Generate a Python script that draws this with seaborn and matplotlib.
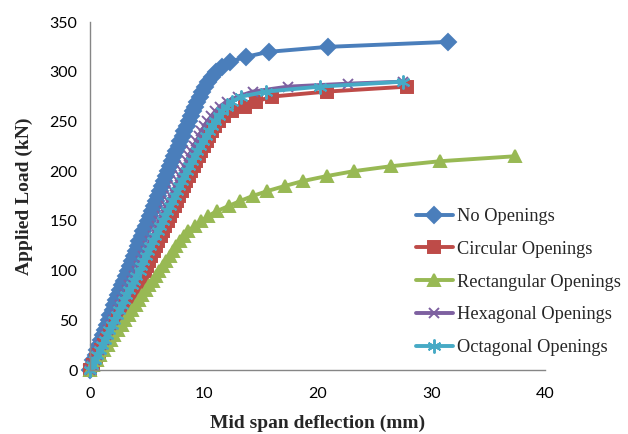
import matplotlib
matplotlib.use("Agg")
import matplotlib.pyplot as plt
import seaborn as sns
import pandas as pd

# ---- data (load in kN, deflection in mm) ----
load_no = [0, 5, 10, 15, 20, 25, 30, 35, 40, 45, 50, 55, 60, 65, 70, 75, 80, 85, 90, 95,
           100, 105, 110, 115, 120, 125, 130, 135, 140, 145, 150, 155, 160, 165, 170, 175,
           180, 185, 190, 195, 200, 205, 210, 215, 220, 225, 230, 235, 240, 245, 250, 255,
           260, 265, 270, 275, 280, 285, 290, 295, 300, 305, 310, 315, 320, 325, 330]
defl_no = [0.0, 0.15, 0.3, 0.5, 0.65, 0.8, 1.0, 1.15, 1.3, 1.5, 1.65, 1.8, 2.0, 2.15, 2.3, 2.5,
           2.65, 2.8, 3.0, 3.15, 3.3, 3.5, 3.65, 3.85, 4.0, 4.2, 4.35, 4.55, 4.7, 4.9, 5.1, 5.25,
           5.45, 5.6, 5.8, 6.0, 6.15, 6.35, 6.5, 6.7, 6.9, 7.05, 7.25, 7.4, 7.6, 7.8, 7.95, 8.15,
           8.3, 8.5, 8.7, 8.85, 9.05, 9.25, 9.45, 9.65, 9.85, 10.1, 10.4, 10.7, 11.1, 11.6, 12.3,
           13.7, 15.7, 20.9, 31.5]

load_circ = [0, 5, 10, 15, 20, 25, 30, 35, 40, 45, 50, 55, 60, 65, 70, 75, 80, 85, 90, 95,
             100, 105, 110, 115, 120, 125, 130, 135, 140, 145, 150, 155, 160, 165, 170, 175,
             180, 185, 190, 195, 200, 205, 210, 215, 220, 225, 230, 235, 240, 245, 250, 255,
             260, 265, 270, 275, 280, 285]
defl_circ = [0.0, 0.25, 0.5, 0.75, 1.0, 1.25, 1.5, 1.75, 2.0, 2.25, 2.5, 2.7, 2.95, 3.15, 3.4,
             3.6, 3.85, 4.05, 4.3, 4.55, 4.8, 5.0, 5.2, 5.4, 5.6, 5.8, 6.0, 6.2, 6.4, 6.6, 6.85,
             7.05, 7.25, 7.45, 7.65, 7.85, 8.05, 8.25, 8.45, 8.7, 8.9, 9.1, 9.35, 9.55, 9.8, 10.0,
             10.25, 10.45, 10.7, 11.0, 11.3, 11.8, 12.5, 13.6, 14.6, 16.0, 20.8, 27.9]

load_rect = [0, 5, 10, 15, 20, 25, 30, 35, 40, 45, 50, 55, 60, 65, 70, 75, 80, 85, 90, 95,
             100, 105, 110, 115, 120, 125, 130, 135, 140, 145, 150, 155, 160, 165, 170, 175,
             180, 185, 190, 195, 200, 205, 210, 215]
defl_rect = [0.0, 0.3, 0.6, 0.9, 1.2, 1.55, 1.85, 2.15, 2.45, 2.8, 3.1, 3.4, 3.7, 4.0, 4.3,
             4.6, 4.9, 5.2, 5.5, 5.8, 6.1, 6.4, 6.7, 7.0, 7.3, 7.6, 7.9, 8.25, 8.65, 9.2, 9.8,
             10.4, 11.2, 12.2, 13.2, 14.3, 15.6, 17.1, 18.7, 20.8, 23.2, 26.5, 30.8, 37.4]

load_hex = [0, 5, 10, 15, 20, 25, 30, 35, 40, 45, 50, 55, 60, 65, 70, 75, 80, 85, 90, 95,
            100, 105, 110, 115, 120, 125, 130, 135, 140, 145, 150, 155, 160, 165, 170, 175,
            180, 185, 190, 195, 200, 205, 210, 215, 220, 225, 230, 235, 240, 245, 250, 255,
            260, 265, 270, 275, 280, 285, 288, 290]
defl_hex = [0.0, 0.2, 0.4, 0.6, 0.8, 1.0, 1.2, 1.4, 1.6, 1.85, 2.05, 2.25, 2.45, 2.65, 2.85,
            3.05, 3.25, 3.45, 3.7, 3.9, 4.1, 4.3, 4.5, 4.7, 4.9, 5.1, 5.3, 5.5, 5.7, 5.9, 6.1,
            6.3, 6.5, 6.7, 6.9, 7.1, 7.3, 7.5, 7.7, 7.9, 8.1, 8.3, 8.5, 8.7, 8.9, 9.15, 9.35,
            9.6, 9.8, 10.05, 10.3, 10.65, 11.0, 11.4, 12.0, 13.0, 14.3, 17.4, 22.7, 27.5]

load_oct = [0, 5, 10, 15, 20, 25, 30, 35, 40, 45, 50, 55, 60, 65, 70, 75, 80, 85, 90, 95,
            100, 105, 110, 115, 120, 125, 130, 135, 140, 145, 150, 155, 160, 165, 170, 175,
            180, 185, 190, 195, 200, 205, 210, 215, 220, 225, 230, 235, 240, 245, 250, 255,
            260, 265, 270, 275, 280, 285, 290]
defl_oct = [0.0, 0.2, 0.45, 0.65, 0.85, 1.05, 1.3, 1.5, 1.7, 1.95, 2.15, 2.35, 2.55, 2.8, 3.0,
            3.2, 3.4, 3.65, 3.85, 4.05, 4.4, 4.5, 4.7, 4.9, 5.1, 5.3, 5.5, 5.75, 5.95, 6.15, 6.4,
            6.6, 6.8, 7.0, 7.2, 7.45, 7.65, 7.85, 8.05, 8.3, 8.5, 8.7, 8.95, 9.2, 9.45, 9.7,
            9.95, 10.2, 10.45, 10.7, 11.0, 11.3, 11.6, 12.0, 12.5, 13.3, 15.5, 20.2, 27.5]

series_names = ["No Openings", "Circular Openings", "Rectangular Openings",
                "Hexagonal Openings", "Octagonal Openings"]
x_ticks = [0, 10, 20, 30, 40]
y_ticks = [0, 50, 100, 150, 200, 250, 300, 350]

# ---- styling ----
sns.set_style("white")
plt.rcParams['font.family'] = ['Lato', 'DejaVu Sans']

fig = plt.figure(figsize=(6.28, 4.34), dpi=100)
ax = fig.add_axes([90 / 628, 64 / 434, 455 / 628, 348 / 434])

colors = ["#4A7EBB", "#BE4B48", "#98B954", "#7D60A0", "#46AAC5"]
markers = ["D", "s", "^", "x", (6, 2, 0)]
msizes = [8, 8, 9, 7, 10]

data = [(defl_no, load_no), (defl_circ, load_circ), (defl_rect, load_rect),
        (defl_hex, load_hex), (defl_oct, load_oct)]

for (dx, ly), name, c, m, ms in zip(data, series_names, colors, markers, msizes):
    df = pd.DataFrame({"x": dx, "y": ly})
    sns.lineplot(data=df, x="x", y="y", ax=ax, sort=False, estimator=None,
                 color=c, marker=m, markersize=ms, linewidth=2.8,
                 markeredgecolor=c, markeredgewidth=1.4, label=name,
                 clip_on=False)

ax.set_xlim(0, 40)
ax.set_ylim(0, 350)
ax.set_xticks(x_ticks)
ax.set_yticks(y_ticks)

for s in ["top", "right"]:
    ax.spines[s].set_visible(False)
for s in ["left", "bottom"]:
    ax.spines[s].set_color("#868686")
    ax.spines[s].set_linewidth(1.0)
ax.tick_params(axis="both", which="major", direction="out", length=5, width=1.0,
               color="#868686", labelsize=11.5, labelcolor="#000000", pad=4)
ax.tick_params(axis="x", pad=7)

ax.set_xlabel("Mid span deflection (mm)", fontfamily="Liberation Serif",
              fontweight="bold", fontsize=14, labelpad=10)
ax.set_ylabel("Applied Load (kN)", fontfamily="Liberation Serif",
              fontweight="bold", fontsize=14, labelpad=12)

leg = ax.legend(loc="upper left", bbox_to_anchor=(416 / 628, 1 - 208 / 434),
                bbox_transform=fig.transFigure, frameon=False, borderpad=0,
                borderaxespad=0, handlelength=2.0, handletextpad=0.25,
                labelspacing=0.86, numpoints=1,
                prop={"family": "Liberation Serif", "size": 13.2})

fig.savefig("out.png", dpi=100)
